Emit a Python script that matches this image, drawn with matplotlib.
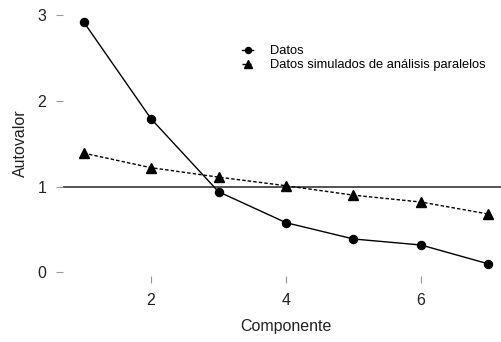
import numpy as np
import matplotlib
matplotlib.use("Agg")
import matplotlib.pyplot as plt

plt.rcParams['font.family'] = ['Liberation Sans', 'DejaVu Sans']

# datos
componente = [1, 2, 3, 4, 5, 6, 7]
datos = [2.92, 1.79, 0.94, 0.58, 0.39, 0.32, 0.10]
simulados = [1.39, 1.22, 1.11, 1.01, 0.90, 0.82, 0.68]
xticks = [2, 4, 6]
yticks = [0, 1, 2, 3]

fig = plt.figure(figsize=(5.01, 3.42), dpi=100)
ax = fig.add_axes([63 / 501, 66 / 342, 446 / 501, 266 / 342])

ax.axhline(1, color='#444444', lw=1.3, zorder=1)
ax.plot(componente, datos, color='black', lw=1, marker='o', markersize=5.8,
        label='Datos', zorder=3)
ax.plot(componente, simulados, color='black', lw=1, linestyle=(0, (2.5, 1.5)),
        marker='^', markersize=7, label='Datos simulados de análisis paralelos',
        zorder=3)

ax.set_xlim(0.696, 7.304)
ax.set_ylim(-0.041, 3.056)
ax.set_xticks(xticks)
ax.set_yticks(yticks)
for s in ax.spines.values():
    s.set_visible(False)
ax.tick_params(axis='both', length=5, width=0.8, color='#999999',
               labelsize=11.5, labelcolor='#222222', pad=7)

ax.set_xlabel('Componente', fontsize=11.5, color='#222222', labelpad=8)
ax.set_ylabel('Autovalor', fontsize=11.5, color='#222222', labelpad=7)

ax.legend(loc='upper left', bbox_to_anchor=(236 / 501, 1 - 39 / 342),
          bbox_transform=fig.transFigure, frameon=False, fontsize=9.3,
          handlelength=0.85, handletextpad=1.3, labelspacing=0.15,
          markerscale=0.75, borderpad=0)

fig.savefig('out.png', dpi=100)
